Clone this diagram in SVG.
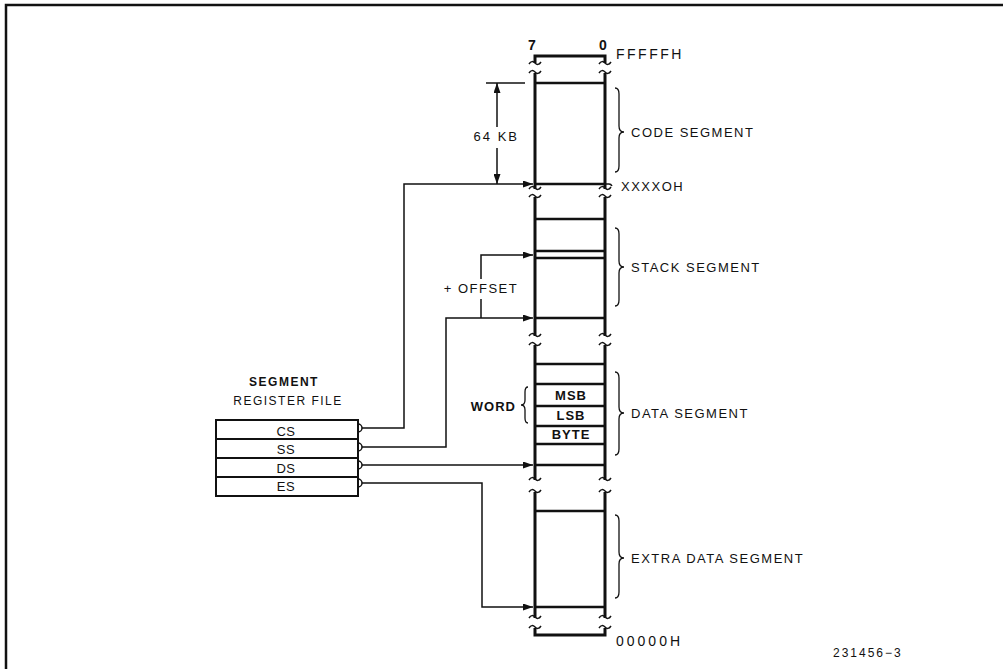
<svg xmlns="http://www.w3.org/2000/svg" width="1003" height="669" viewBox="0 0 1003 669">
<defs>
<style>
.t{font-family:"Liberation Sans",Arial,sans-serif;fill:#111}
.lab{font-size:13px;letter-spacing:1.5px}
.b{font-weight:bold}
.col{stroke:#111;stroke-width:3;fill:none}
.cell{stroke:#111;stroke-width:2.5;fill:none}
.til{stroke:#111;stroke-width:1.5;fill:none}
.con{stroke:#111;stroke-width:1.5;fill:none}
.br{stroke:#111;stroke-width:1.3;fill:none}
.reg{stroke:#111;stroke-width:2;fill:#fff}
</style>
<marker id="ah" markerUnits="userSpaceOnUse" markerWidth="10" markerHeight="7" refX="10" refY="3.5" orient="auto">
<path d="M0,0 L10,3.5 L0,7 z" fill="#111"/>
</marker>
</defs>
<rect width="1003" height="669" fill="#fff"/>
<path d="M6,669 V5 H1003" stroke="#111" stroke-width="2.5" fill="none"/>

<g id="memory">
<text class="t b" x="532" y="50" font-size="14" text-anchor="middle">7</text>
<text class="t b" x="603" y="50" font-size="14" text-anchor="middle">0</text>
<text class="t" x="616" y="59" font-size="14" letter-spacing="2.5">FFFFFH</text>
<path class="col" d="M535,63 V56 H605 V63"/>
<path class="col" d="M535,73 V189 M605,73 V189 M535,197 V336 M605,197 V336 M535,345 V480 M605,345 V480 M535,492 V618 M605,492 V618"/>
<path class="col" d="M535,628 V635 H605 V628"/>
<path class="til" d="M529,64 c2,-3 4,-3 6,-1 s4,2 6,-1 M599,64 c2,-3 4,-3 6,-1 s4,2 6,-1
M529,73 c2,-3 4,-3 6,-1 s4,2 6,-1 M599,73 c2,-3 4,-3 6,-1 s4,2 6,-1
M529,189 c2,-3 4,-3 6,-1 s4,2 6,-1 M599,189 c2,-3 4,-3 6,-1 s4,2 6,-1
M529,197 c2,-3 4,-3 6,-1 s4,2 6,-1 M599,197 c2,-3 4,-3 6,-1 s4,2 6,-1
M529,336 c2,-3 4,-3 6,-1 s4,2 6,-1 M599,336 c2,-3 4,-3 6,-1 s4,2 6,-1
M529,345 c2,-3 4,-3 6,-1 s4,2 6,-1 M599,345 c2,-3 4,-3 6,-1 s4,2 6,-1
M529,480 c2,-3 4,-3 6,-1 s4,2 6,-1 M599,480 c2,-3 4,-3 6,-1 s4,2 6,-1
M529,492 c2,-3 4,-3 6,-1 s4,2 6,-1 M599,492 c2,-3 4,-3 6,-1 s4,2 6,-1
M529,618 c2,-3 4,-3 6,-1 s4,2 6,-1 M599,618 c2,-3 4,-3 6,-1 s4,2 6,-1
M529,628 c2,-3 4,-3 6,-1 s4,2 6,-1 M599,628 c2,-3 4,-3 6,-1 s4,2 6,-1"/>
<path class="cell" d="M535,83 H605 M535,184 H605 M535,219 H605 M535,251 H605 M535,258 H605 M535,318 H605 M535,364 H605 M535,384 H605 M535,406 H605 M535,426 H605 M535,444 H605 M535,465 H605 M535,511 H605 M535,607 H605"/>
<path class="con" d="M605,184 h4 q2,0 3,2"/>
<text class="t b" x="571" y="400" font-size="13" text-anchor="middle" letter-spacing="1">MSB</text>
<text class="t b" x="571" y="420" font-size="13" text-anchor="middle" letter-spacing="1">LSB</text>
<text class="t b" x="571" y="439" font-size="13" text-anchor="middle" letter-spacing="1">BYTE</text>
<text class="t lab" x="621" y="191">XXXXOH</text>
<text class="t" x="616" y="646" font-size="14" letter-spacing="3">00000H</text>
</g>

<g id="code-segment">
<path class="br" d="M615,88 q4,0 4,6 V126 q0,6 5,6 q-5,0 -5,6 V166 q0,6 -4,6"/>
<text class="t lab" x="631" y="137">CODE SEGMENT</text>
</g>
<g id="stack-segment">
<path class="br" d="M615,228 q4,0 4,6 V261 q0,6 5,6 q-5,0 -5,6 V300 q0,6 -4,6"/>
<text class="t lab" x="631" y="272">STACK SEGMENT</text>
</g>
<g id="data-segment">
<path class="br" d="M615,372 q4,0 4,6 V407 q0,6 5,6 q-5,0 -5,6 V449 q0,6 -4,6"/>
<text class="t lab" x="631" y="418">DATA SEGMENT</text>
</g>
<g id="extra-segment">
<path class="br" d="M615,515 q4,0 4,6 V552 q0,6 5,6 q-5,0 -5,6 V592 q0,6 -4,6"/>
<text class="t lab" x="631" y="563">EXTRA DATA SEGMENT</text>
</g>
<g id="word">
<path class="br" d="M528,387 q-3,0 -3,5 V400 q0,5 -4,5 q4,0 4,5 V418 q0,5 3,5"/>
<text class="t b" x="516" y="411" font-size="13" text-anchor="end" letter-spacing="1">WORD</text>
</g>

<g id="register-file">
<text class="t b" x="284" y="386" font-size="12" text-anchor="middle" letter-spacing="1.5">SEGMENT</text>
<text class="t" x="288" y="405" font-size="12" text-anchor="middle" letter-spacing="1.5">REGISTER FILE</text>
<rect class="reg" x="216" y="420" width="142" height="76"/>
<path class="reg" d="M216,439 H358 M216,458 H358 M216,477 H358"/>
<path class="con" d="M358,424 a4,4 0 0 1 0,8 M358,443 a4,4 0 0 1 0,8 M358,461 a4,4 0 0 1 0,8 M358,479 a4,4 0 0 1 0,8"/>
<text class="t" x="286" y="436" font-size="13" text-anchor="middle" letter-spacing="0.5">CS</text>
<text class="t" x="286" y="454" font-size="13" text-anchor="middle" letter-spacing="0.5">SS</text>
<text class="t" x="286" y="473" font-size="13" text-anchor="middle" letter-spacing="0.5">DS</text>
<text class="t" x="286" y="491" font-size="13" text-anchor="middle" letter-spacing="0.5">ES</text>
</g>

<g id="connectors">
<path class="con" d="M362,428 H404 V184 H533" marker-end="url(#ah)"/>
<path class="con" d="M362,447 H446 V318 H533" marker-end="url(#ah)"/>
<path class="con" d="M481,318 V299"/>
<path class="con" d="M481,279 V255 H533" marker-end="url(#ah)"/>
<path class="con" d="M362,465 H533" marker-end="url(#ah)"/>
<path class="con" d="M362,483 H482 V607 H533" marker-end="url(#ah)"/>
<path class="con" d="M486,83 H525"/>
<path class="con" d="M497,127 V83" marker-end="url(#ah)"/>
<path class="con" d="M497,148 V184" marker-end="url(#ah)"/>
</g>
<text class="t" x="519" y="141" font-size="13" text-anchor="end" letter-spacing="2">64 KB</text>
<text class="t" x="481" y="293" font-size="13" text-anchor="middle" letter-spacing="1.5">+ OFFSET</text>
<text class="t" x="833" y="657" font-size="12" letter-spacing="2">231456−3</text>
</svg>
